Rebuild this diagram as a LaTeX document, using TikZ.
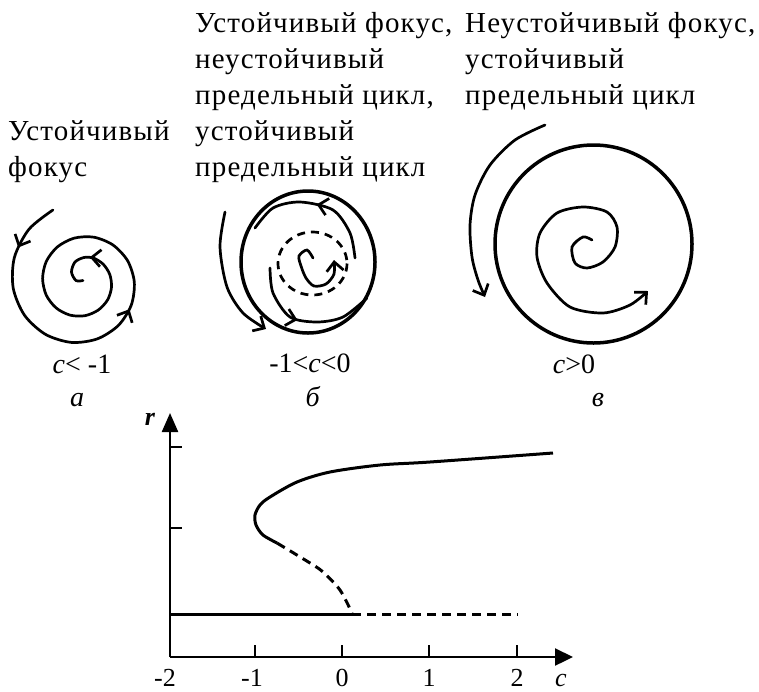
\documentclass[tikz,border=0pt]{standalone}
\usepackage{fontspec}
\setmainfont{Liberation Serif}
\usetikzlibrary{arrows.meta,decorations.markings}
\tikzset{
  traj/.style={line width=2.7pt, line cap=round},
  limcyc/.style={line width=3.5pt},
  barb/.tip={Straight Barb[length=9pt,width=17pt]},
  hdr/.style={anchor=base west, inner sep=0pt, font=\fontsize{29}{36}\selectfont\addfontfeatures{LetterSpace=4}},
  captxt/.style={anchor=base, inner sep=0pt, font=\fontsize{28}{32}\selectfont},
  ticktxt/.style={anchor=base, inner sep=0pt, font=\fontsize{26}{30}\selectfont},
  axisline/.style={line width=2.3pt},
  branch/.style={line width=3pt},
}
\begin{document}
\begin{tikzpicture}[x=1pt,y=-1pt]
\useasboundingbox (0,0) rectangle (759,691);
% headers
\node[hdr] (h1a) at (8,140) {Устойчивый};
\node[hdr] (h1b) at (8,176) {фокус};
\node[hdr] (h2a) at (195,32) {Устойчивый фокус,};
\node[hdr] (h2b) at (195,68) {неустойчивый};
\node[hdr] (h2c) at (195,104) {предельный цикл,};
\node[hdr] (h2d) at (195,140) {устойчивый};
\node[hdr] (h2e) at (195,176) {предельный цикл};
\node[hdr] (h3a) at (465,32) {Неустойчивый фокус,};
\node[hdr] (h3b) at (465,68) {устойчивый};
\node[hdr] (h3c) at (465,104) {предельный цикл};
% spiral a
\draw[traj, postaction={decorate}, decoration={markings,
   mark=at position 52pt with {\arrow{barb}},
   mark=at position 250pt with {\arrow{barb}},
   mark=at position 564pt with {\arrow{barb}}}]
  plot[smooth] coordinates {(52.9,210.0) (29.1,229.1) (14.4,257.4) (13.2,288.0) (24.5,315.2) (45.4,334.3) (71.4,342.4) (97.2,338.9) (118.4,325.4) (131.3,305.0) (134.3,282.0) (127.6,260.7) (113.0,245.0) (94.0,237.2) (74.3,238.1) (57.4,246.9) (46.3,261.4) (42.6,278.5) (46.2,295.0) (56.1,307.9) (70.0,315.1) (84.9,315.7) (98.2,310.1) (107.6,299.9) (111.5,287.2) (109.8,274.5) (103.2,264.2) (93.2,257.9) (84,257.5) (75,262) (71.5,272) (76,280.5) (83,280.5)};
% spiral b
\draw[limcyc] (308,262) ellipse [x radius=67, y radius=71];
\draw[traj, dash pattern=on 8pt off 6pt, line cap=butt] (312.5,263.5) ellipse [x radius=34.5, y radius=31.5];
\draw[traj, -{barb}] plot[smooth] coordinates {(225,212) (220,247) (227,287) (243,313) (266,329)};
\draw[traj, postaction={decorate}, decoration={markings, mark=at position 0.5 with {\arrow{barb}}}]
  plot[smooth] coordinates {(355,258) (350,233) (333,210) (300,202) (273,208) (255,228)};
\draw[traj, postaction={decorate}, decoration={markings, mark=at position 0.45 with {\arrow{barb}}}]
  plot[smooth] coordinates {(270,268) (273,293) (290,317) (317,322) (343,317) (367,298)};
\draw[traj, -{barb}] plot[smooth] coordinates {(313,258) (307,250) (299,256) (301,266) (306,278) (314,286) (326,284) (334,274) (334,260)};
% spiral c
\draw[limcyc] (593.5,244) ellipse [x radius=98.5, y radius=99];
\draw[traj, -{barb}] plot[smooth] coordinates {(545,125) (515,140) (490,165) (475,195) (470,225) (472,257) (478,280) (485,297)};
\draw[traj, -{barb}] plot[smooth] coordinates {(592,240) (583,237) (572,247) (575,263) (587,268) (603,262) (615,247) (617,227) (607,212) (583,207) (557,213) (540,233) (537,257) (547,283) (570,307) (603,313) (630,305) (648,291)};
% captions
\node[captxt] (ca) at (82,373) {\textit{c}<~-1};
\node[captxt] (la) at (77,406) {\textit{а}};
\node[captxt] (cb) at (310,372) {-1<\textit{c}<0};
\node[captxt] (lb) at (313,406) {\textit{б}};
\node[captxt] (cc) at (574,373) {\textit{c}>0};
\node[captxt] (lc) at (598,406) {\textit{в}};
% graph
\coordinate (O) at (170,657);
\coordinate (Ytop) at (170,413);
\coordinate (Xend) at (573,657);
\draw[axisline, -{Triangle[length=19pt,width=16pt]}] (O) -- (Ytop);
\draw[axisline, -{Triangle[length=18pt,width=17pt]}] (O) -- (Xend);
\foreach \x in {255,342,429,517} \draw[axisline] (\x,657) -- (\x,645);
\foreach \y in {447,528} \draw[axisline] (170,\y) -- (182,\y);
\coordinate (H0) at (170,614);
\coordinate (H1) at (352,614);
\coordinate (H2) at (518,614);
\draw[branch] (H0) -- (H1);
\draw[branch, dash pattern=on 9pt off 6pt] (H1) -- (H2);
\draw[branch] plot[smooth] coordinates {(277,543) (263,535) (256,525) (255,515) (260,505) (270,497) (297,482) (330,472) (380,465) (430,462) (553,453)};
\draw[branch, dash pattern=on 9pt off 6pt] plot[smooth] coordinates {(277,543) (310,563) (323,572) (340,590) (352,613)};
\node[ticktxt] (t1) at (165,686) {-2};
\node[ticktxt] (t2) at (252,686) {-1};
\node[ticktxt] (t3) at (342,686) {0};
\node[ticktxt] (t4) at (429,686) {1};
\node[ticktxt] (t5) at (517,686) {2};
\node[ticktxt] (xl) at (561,686) {\textit{c}};
\node[ticktxt] (yl) at (150,425) {\textbf{\textit{r}}};
\end{tikzpicture}
\end{document}
